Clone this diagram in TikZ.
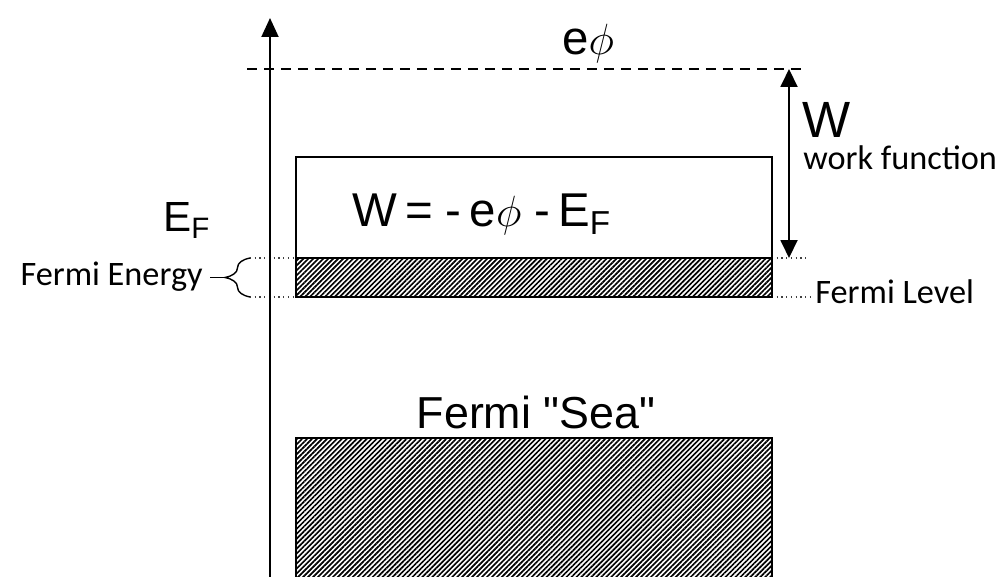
\documentclass[tikz,border=0pt]{standalone}
\usepackage{fontspec}
\setmainfont{Liberation Sans}
\newfontfamily\calibri{Carlito}
\usetikzlibrary{arrows.meta,patterns.meta,decorations.pathreplacing}

\newcommand{\EF}{E\textsubscript{F}}

\begin{document}
\begin{tikzpicture}[x=0.02cm,y=-0.02cm,
    bigtxt/.style={font=\fontsize{27}{31}\selectfont, inner sep=0pt},
    smalltxt/.style={font=\calibri\fontsize{19.5}{23}\selectfont, inner sep=0pt},
    tip/.style={-{Triangle[length=0.38cm,width=0.34cm]}},
    band/.style={draw, line width=0.8pt, pattern={Lines[angle=45,distance=2pt,line width=0.95pt]}},
    guide/.style={dotted, line width=0.7pt, black!75}]

    \clip (0,0) rectangle (1006,577);

    % Guide lines for the Fermi level
    \draw[guide] (250,258) -- (806,258);
    \draw[guide] (250,297) -- (812,297);

    % Energy axis
    \coordinate (axbot) at (270,590);
    \coordinate (axtop) at (270,18);
    \draw[line width=1.1pt, tip] (axbot) -- (axtop);

    % Vacuum level
    \coordinate (vacL) at (247,69);
    \coordinate (vacR) at (801,69);
    \draw[line width=1.4pt, dash pattern=on 0.2cm off 0.14cm] (vacL) -- (vacR);
    \node[bigtxt, anchor=base] (ephi) at (588,55) {e$\phi$};

    % Bands
    \draw[line width=0.8pt] (296,157) rectangle (772,258);
    \draw[band] (296,258) rectangle (772,297);
    \draw[band] (296,438) rectangle (772,600);

    % Work function arrow
    \coordinate (wtop) at (789,69);
    \coordinate (wbot) at (789,258);
    \draw[line width=1.1pt, {Triangle[length=0.36cm,width=0.34cm]}-{Triangle[length=0.36cm,width=0.34cm]}] (wtop) -- (wbot);
    \node[font=\fontsize{29}{33}\selectfont, inner sep=0pt, anchor=base west] (wlab) at (802,138) {W};
    \node[smalltxt, anchor=base west] (wfun) at (803,170) {work function};

    % Labels
    \node[bigtxt, anchor=base west] (weq) at (352,227) {W\,= -\,e$\phi$ -\,\EF};
    \node[font=\fontsize{24}{28}\selectfont, inner sep=0pt, anchor=base west] (efl) at (163,232) {\EF};
    \node[font=\fontsize{25.5}{30}\selectfont, inner sep=0pt, anchor=base] (sea) at (536,428) {Fermi \textquotedbl Sea\textquotedbl};
    \node[smalltxt, anchor=base west] (flev) at (815,303) {Fermi Level};

    % Fermi energy brace
    \draw[line width=0.8pt, decorate, decoration={brace, amplitude=0.5cm}] (250,297) -- (250,258);
    \coordinate (bracetip) at (225,277.5);
    \node[smalltxt, anchor=base east] (fen) at (203,285) {Fermi Energy};
    \draw[line width=0.8pt] (bracetip) -- ([xshift=0.14cm]fen.east |- bracetip);

\end{tikzpicture}
\end{document}
